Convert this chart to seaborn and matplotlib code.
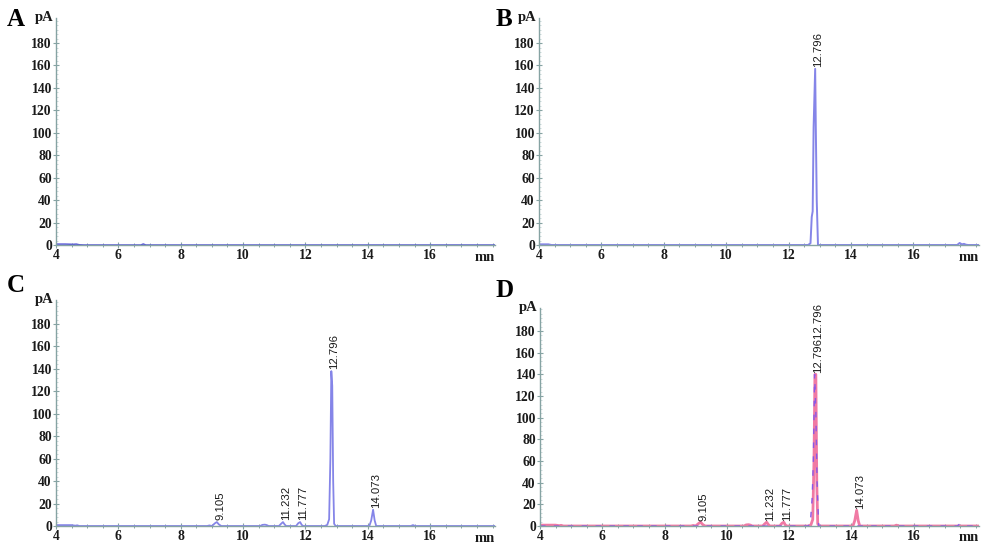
import matplotlib
matplotlib.use("Agg")
import matplotlib.pyplot as plt
from matplotlib.ticker import MultipleLocator
import seaborn as sns
import pandas as pd

# ---------------- data ----------------
# Panel A: blank chromatogram
tA = [4.0, 4.3, 4.55, 4.65, 4.75, 4.9, 6.72, 6.8, 6.88, 18.1]
yA = [0.8, 0.8, 0.6, 0.8, 0.2, 0.0, 0.0, 0.9, 0.0, 0.0]

# Panel B: standard
tB = [4.0, 4.3, 4.4, 12.62, 12.7, 12.74, 12.77, 12.8, 12.85, 12.87, 12.9, 12.94, 13.0,
      17.4, 17.48, 17.55, 17.62, 17.68, 17.75, 18.1]
yB = [0.6, 0.6, 0.0, 0.0, 1.5, 25.0, 30.0, 105.0, 157.0, 105.0, 40.0, 0.0, 0.0,
      0.0, 1.8, 0.6, 1.0, 0.3, 0.0, 0.0]
labB_t = [12.85]
labB_y = [157.0]
labB_txt = ["12.796"]

# Panel C: sample
tC = [4.0, 4.5, 4.62, 4.68, 4.75, 8.85, 8.92, 9.0, 9.1, 9.16, 9.22, 9.3,
      10.55, 10.62, 10.7, 10.76, 10.82, 11.15, 11.22, 11.28, 11.33, 11.38,
      11.7, 11.77, 11.83, 11.88, 11.93, 12.62, 12.7, 12.76, 12.8, 12.83,
      12.86, 12.89, 12.92, 12.97, 14.05, 14.11, 14.17, 14.22, 14.27,
      15.38, 15.45, 15.52, 18.1]
yC = [0.8, 0.8, 0.3, 0.6, 0.0, 0.0, 0.5, 0.0, 2.5, 3.5, 1.5, 0.0,
      0.0, 1.0, 1.2, 0.8, 0.0, 0.0, 2.0, 3.5, 1.5, 0.0,
      0.0, 2.5, 3.5, 1.0, 0.0, 0.0, 1.0, 6.0, 60.0, 138.0,
      125.0, 40.0, 2.0, 0.0, 0.0, 5.0, 14.5, 5.0, 0.0,
      0.0, 0.8, 0.0, 0.0]
labC_t = [9.16, 11.28, 11.83, 12.83, 14.17]
labC_y = [3.5, 3.5, 3.5, 138.0, 14.5]
labC_txt = ["9.105", "11.232", "11.777", "12.796", "14.073"]

# Panel D: overlay (pink = sample, blue = standard)
tD_pink = tC
yD_pink = [0.8, 0.8, 0.3, 0.6, 0.0, 0.0, 0.5, 0.0, 2.5, 3.5, 1.5, 0.0,
           0.0, 1.0, 1.2, 0.8, 0.0, 0.0, 2.0, 3.5, 1.5, 0.0,
           0.0, 2.5, 3.5, 1.0, 0.0, 0.0, 1.0, 6.0, 60.0, 140.0,
           140.0, 40.0, 2.0, 0.0, 0.0, 5.0, 14.5, 5.0, 0.0,
           0.0, 0.8, 0.0, 0.0]
tD_blue = [4.0, 12.6, 12.68, 12.74, 12.78, 12.82, 12.86, 12.9, 12.95, 13.0,
           17.4, 17.48, 17.55, 17.62, 17.68, 17.75, 18.1]
yD_blue = [0.0, 0.0, 1.5, 25.0, 60.0, 140.0, 105.0, 40.0, 0.0, 0.0,
           0.0, 1.8, 0.6, 1.0, 0.3, 0.0, 0.0]
labD_t = [9.16, 11.28, 11.83, 12.84, 14.17]
labD_y = [3.5, 3.5, 3.5, 140.0, 14.5]
labD_txt = ["9.105", "11.232", "11.777", "12.79612.796", "14.073"]

x_ticks = [4, 6, 8, 10, 12, 14, 16]
y_ticks = [0, 20, 40, 60, 80, 100, 120, 140, 160, 180]
panel_letters = ["A", "B", "C", "D"]

# ---------------- style ----------------
sns.set_theme(style="white")
plt.rcParams['font.family'] = ['DejaVu Sans']

BLUE = "#8585e8"
PINK = "#f07aa4"
PURPLE = "#8a58e6"
AXC = "#86a3a3"
TXT = "#1a1a1a"
SERIF = "Liberation Serif"

W, H = 1000, 549
fig = plt.figure(figsize=(W / 100, H / 100), dpi=100)
fig.patch.set_facecolor("white")


def make_ax(left, right, bottom, top, xmax, ymax):
    ax = fig.add_axes([left / W, 1 - bottom / H, (right - left) / W, (bottom - top) / H])
    ax.set_xlim(4, xmax)
    ax.set_ylim(0, ymax)
    return ax


def style_ax(ax):
    for s in ["top", "right"]:
        ax.spines[s].set_visible(False)
    for s in ["left", "bottom"]:
        ax.spines[s].set_color(AXC)
        ax.spines[s].set_linewidth(1.0)
    ax.set_facecolor("white")
    ax.grid(False)
    ax.set_xticks(x_ticks)
    ax.set_yticks(y_ticks)
    ax.xaxis.set_minor_locator(MultipleLocator(0.5))
    ax.yaxis.set_minor_locator(MultipleLocator(4))
    ax.tick_params(axis="both", which="major", direction="inout", length=4, width=0.8,
                   color=AXC, labelcolor=TXT, pad=1, bottom=True, left=True)
    ax.tick_params(axis="x", which="minor", direction="inout", length=3, width=0.7,
                   color=AXC, bottom=True)
    ax.tick_params(axis="y", which="minor", direction="in", length=1.2, width=0.5,
                   color="#b8cccc", left=True)
    for lab in ax.get_xticklabels() + ax.get_yticklabels():
        lab.set_fontfamily(SERIF)
        lab.set_fontweight("bold")
        lab.set_fontsize(9.8)
    ax.set_xlabel("")
    ax.set_ylabel("")
    ax.text(-0.006, 1.0, "pA", transform=ax.transAxes, ha="right", va="center",
            fontfamily=SERIF, fontweight="bold", fontsize=10.5, color=TXT)
    ax.text(1.0, -0.025, "mn", transform=ax.transAxes, ha="right", va="top",
            fontfamily=SERIF, fontweight="bold", fontsize=10.5, color=TXT)


def peak_labels(ax, ts, ys, txts):
    for t, y, s in zip(ts, ys, txts):
        ax.text(t + 0.1, y + 1.5, s, rotation=90, ha="center", va="bottom",
                fontfamily="Liberation Sans", fontsize=8.2, color=TXT)


def trace(ax, t, y, color, lw, ls="-"):
    df = pd.DataFrame({"t": t, "y": y})
    sns.lineplot(data=df, x="t", y="y", ax=ax, color=color, linewidth=lw,
                 linestyle=ls, sort=False, estimator=None)


axA = make_ax(56, 495, 245, 18, 18.08, 202.3)
trace(axA, tA, yA, "#5a5ad8", 1.1)
style_ax(axA)

axB = make_ax(539, 979, 245, 18, 18.1, 202.3)
trace(axB, tB, yB, BLUE, 1.4)
style_ax(axB)
peak_labels(axB, labB_t, labB_y, labB_txt)

axC = make_ax(56, 495, 526, 300, 18.08, 201.4)
trace(axC, tC, yC, BLUE, 1.3)
style_ax(axC)
peak_labels(axC, labC_t, labC_y, labC_txt)

axD = make_ax(540, 979, 526, 308, 18.1, 201.3)
trace(axD, tD_pink, yD_pink, PINK, 2.0)
trace(axD, tD_blue, yD_blue, PURPLE, 1.0, ls=(0, (4, 6)))
style_ax(axD)
peak_labels(axD, labD_t, labD_y, labD_txt)

# panel letters
for letter, (x, y) in zip(panel_letters, [(7, 26), (496, 26), (7, 292), (496, 297)]):
    fig.text(x / W, 1 - y / H, letter, ha="left", va="baseline",
             fontfamily=SERIF, fontweight="bold", fontsize=18, color="black")

fig.savefig("out.png", dpi=100, facecolor="white")
